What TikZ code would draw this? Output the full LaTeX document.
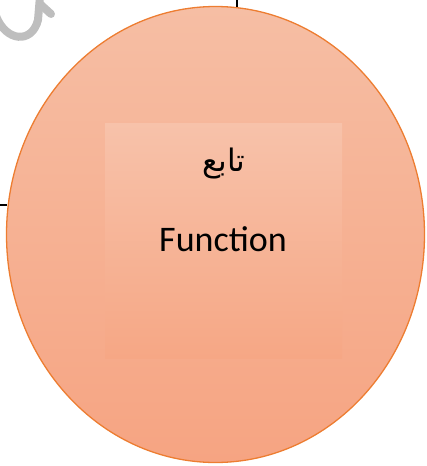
\documentclass[tikz,border=0pt]{standalone}
\usepackage{fontspec}
\setmainfont{Carlito}
\newfontfamily\arabicfont[Script=Arabic]{DejaVu Sans}
\TeXXeTstate=1
\usetikzlibrary{shapes.geometric}
\definecolor{ellTop}{RGB}{246,190,164}
\definecolor{ellBot}{RGB}{246,164,130}
\definecolor{recTop}{RGB}{247,194,170}
\definecolor{recBot}{RGB}{246,167,133}
\definecolor{edgeOr}{RGB}{237,125,49}
\definecolor{wmark}{RGB}{190,190,190}
\tikzset{
  bigell/.style={ellipse, draw=edgeOr, line width=1.3pt, top color=ellTop, bottom color=ellBot,
    minimum width=418pt, minimum height=456pt, inner sep=0pt, outer sep=0pt},
  innerbox/.style={rectangle, draw=none, top color=recTop, bottom color=recBot,
    minimum width=237pt, minimum height=235pt, inner sep=0pt},
  lbl/.style={inner sep=0pt, text=black},
  stub/.style={line width=1.5pt, black},
  wm/.style={line width=8pt, wmark, line cap=round}
}
\begin{document}
\begin{tikzpicture}[x=1pt,y=-1pt]
\useasboundingbox (0,0) rectangle (427,466);
% watermark fragment
\draw[wm] (-4,16) .. controls (6,42) and (32,44) .. (38,20) -- (40,-4);
\draw[wm] (40,4) -- (51,14);
\node[bigell] (ell) at (215.5,234.5) {};
\node[innerbox] (box) at (223.5,240.5) {};
\node[lbl, font=\arabicfont\fontsize{31}{36}\selectfont] (ar) at (224,164) {\beginR تابع\endR};
\node[lbl, font=\fontsize{36}{40}\selectfont] (fn) at (223,239) {Function};
\coordinate (t1) at (237,0);
\coordinate (t2) at (237,6.5);
\coordinate (l1) at (0,205);
\coordinate (l2) at (6.5,205);
\draw[stub] (t1) -- (t2);
\draw[stub] (l1) -- (l2);
\end{tikzpicture}
\end{document}
